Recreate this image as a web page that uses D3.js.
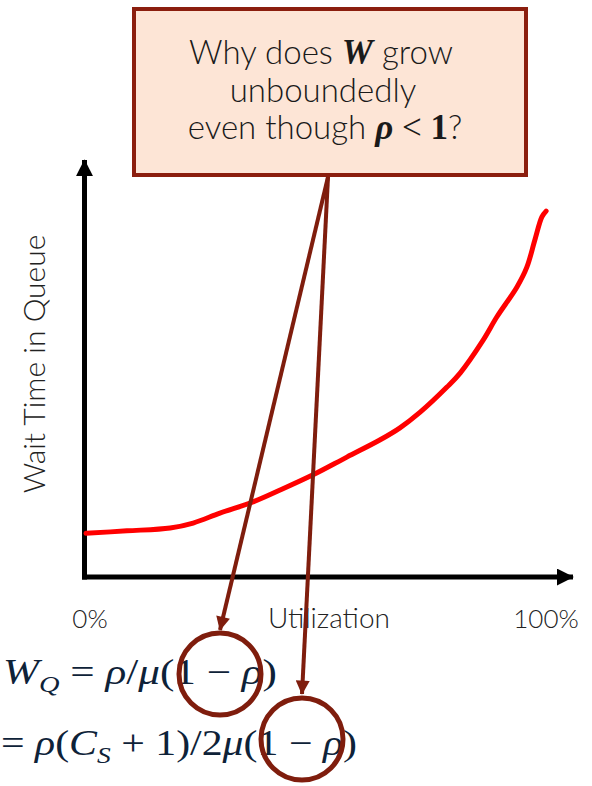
<!DOCTYPE html>
<html>
<head>
<meta charset="utf-8">
<script src="https://cdn.jsdelivr.net/npm/d3@7"></script>
<style>
  html, body { margin: 0; padding: 0; background: #ffffff; }
  svg { display: block; }
</style>
</head>
<body>
<script>
// ---------- data ----------
const utilization = [0, 8.7, 17.9, 22.8, 28.5, 35.5, 41.3, 48.3, 55.5, 62.6, 66.8, 71.1, 76.8, 79.6, 84.5, 87.4, 91.7, 93.8, 95.5, 97.0, 97.9];
const waitTime    = [10.6, 11.2, 11.9, 13.1, 15.5, 18.2, 21.1, 24.8, 29.1, 33.3, 36.2, 40.0, 46.1, 49.5, 57.5, 63.1, 70.4, 75.2, 81.8, 87.4, 88.8];
const xTickValues = [0, 100];
const xTickLabels = ["0%", "100%"];
const xTitle = "Utilization";
const yTitle = "Wait Time in Queue";

const W = 592, H = 786;
const svg = d3.select("body").append("svg").attr("width", W).attr("height", H);

const x = d3.scaleLinear().domain([0, 100]).range([86, 556]);
const y = d3.scaleLinear().domain([0, 100]).range([577, 165]);

const textFont = "Lato, 'Open Sans', sans-serif";
const mathFont = "'Liberation Serif', 'DejaVu Serif', serif";
const arrowColor = "#7f1d0d";

// markers
const defs = svg.append("defs");
defs.append("marker").attr("id", "blackArrow")
  .attr("viewBox", "0 0 10 10").attr("refX", 9.5).attr("refY", 5)
  .attr("markerUnits", "userSpaceOnUse").attr("markerWidth", 17).attr("markerHeight", 17)
  .attr("orient", "auto")
  .append("path").attr("d", "M0,0 L10,5 L0,10 Z").attr("fill", "#000");
defs.append("marker").attr("id", "redArrow")
  .attr("viewBox", "0 0 10 10").attr("refX", 9.5).attr("refY", 5)
  .attr("markerUnits", "userSpaceOnUse").attr("markerWidth", 15).attr("markerHeight", 14)
  .attr("orient", "auto")
  .append("path").attr("d", "M0,0 L10,5 L0,10 Z").attr("fill", arrowColor);

// ---------- axes (arrows) ----------
const x0 = x(0) - 1.5, y0 = y(0);
svg.append("line").attr("x1", x0).attr("y1", y0 + 2.5).attr("x2", x0).attr("y2", 160)
  .attr("stroke", "#000").attr("stroke-width", 5).attr("marker-end", "url(#blackArrow)");
svg.append("line").attr("x1", x0 - 2.5).attr("y1", y0).attr("x2", 573).attr("y2", y0)
  .attr("stroke", "#000").attr("stroke-width", 5).attr("marker-end", "url(#blackArrow)");

// tick labels
svg.selectAll(".xtick").data(xTickValues).enter().append("text")
  .attr("x", (d, i) => x(d) + (i === 0 ? 4 : -10))
  .attr("y", 628)
  .attr("text-anchor", "middle")
  .attr("font-family", textFont).attr("font-weight", 300)
  .attr("font-size", 26).attr("fill", "#222")
  .text((d, i) => xTickLabels[i]);

svg.append("text").attr("x", 329).attr("y", 628).attr("text-anchor", "middle")
  .attr("font-family", textFont).attr("font-weight", 300)
  .attr("font-size", 28).attr("fill", "#222").text(xTitle);

svg.append("text")
  .attr("transform", "translate(45,364) rotate(-90)")
  .attr("text-anchor", "middle")
  .attr("font-family", textFont).attr("font-weight", 300)
  .attr("font-size", 30).attr("fill", "#222").text(yTitle);

// ---------- curve ----------
const pts = utilization.map((u, i) => [u, waitTime[i]]);
svg.append("path").datum(pts)
  .attr("d", d3.line().x(d => x(d[0])).y(d => y(d[1])).curve(d3.curveCatmullRom.alpha(0.5)))
  .attr("fill", "none").attr("stroke", "#ff0000").attr("stroke-width", 5)
  .attr("stroke-linecap", "round").attr("stroke-linejoin", "round");

// ---------- callout box ----------
svg.append("rect").attr("x", 134).attr("y", 9).attr("width", 392).attr("height", 166)
  .attr("fill", "#fde5d6").attr("stroke", "#8b1e0e").attr("stroke-width", 4);

const boxText = svg.append("g").attr("font-family", textFont).attr("font-weight", 300)
  .attr("font-size", 33).attr("fill", "#1a1a1a").attr("text-anchor", "middle");
const l1 = boxText.append("text").attr("x", 321).attr("y", 64);
l1.append("tspan").text("Why does ");
l1.append("tspan").attr("font-family", mathFont).attr("font-style", "italic").attr("font-weight", 700).attr("font-size", 35).text("W");
l1.append("tspan").text("  grow");
boxText.append("text").attr("x", 323).attr("y", 102).text("unboundedly");
const l3 = boxText.append("text").attr("x", 325).attr("y", 139);
l3.append("tspan").text("even though ");
l3.append("tspan").attr("font-family", mathFont).attr("font-style", "italic").attr("font-weight", 700).attr("font-size", 35).text("ρ");
l3.append("tspan").attr("font-family", mathFont).attr("font-weight", 400).attr("font-size", 35).text(" < ");
l3.append("tspan").attr("font-family", mathFont).attr("font-weight", 700).attr("font-size", 35).text("1");
l3.append("tspan").text("?");

// ---------- formulas ----------
const fColor = "#0e2238";
function formula(parts, xPos, yPos, len) {
  const t = svg.append("text").attr("x", xPos).attr("y", yPos)
    .attr("font-family", mathFont).attr("font-size", 35).attr("fill", fColor)
    .attr("textLength", len).attr("lengthAdjust", "spacingAndGlyphs");
  parts.forEach(p => {
    const s = t.append("tspan").text(p.t);
    if (p.i) s.attr("font-style", "italic");
    if (p.sub) s.attr("font-size", 23).attr("dy", 8);
    if (p.up) s.attr("dy", -8);
  });
  return t;
}
formula([
  {t: "W", i: true}, {t: "Q", i: true, sub: true}, {t: " = ", up: true}, {t: "ρ", i: true}, {t: "/"},
  {t: "μ", i: true}, {t: "(1 − "}, {t: "ρ", i: true}, {t: ")"}
], 3, 684, 274);
formula([
  {t: "= "}, {t: "ρ", i: true}, {t: "("}, {t: "C", i: true}, {t: "S", i: true, sub: true},
  {t: " + 1)/2", up: true}, {t: "μ", i: true}, {t: "(1 − "}, {t: "ρ", i: true}, {t: ")"}
], 1, 755, 356);

// ---------- callout arrows & circles ----------
const origin = [328, 177];
const targets = [[220, 630], [302, 694]];
svg.selectAll(".callout").data(targets).enter().append("line")
  .attr("x1", origin[0]).attr("y1", origin[1])
  .attr("x2", d => d[0]).attr("y2", d => d[1])
  .attr("stroke", arrowColor).attr("stroke-width", 4)
  .attr("marker-end", "url(#redArrow)");

const circles = [[220, 674], [302, 739]];
svg.selectAll(".ring").data(circles).enter().append("circle")
  .attr("cx", d => d[0]).attr("cy", d => d[1]).attr("r", 41)
  .attr("fill", "none").attr("stroke", arrowColor).attr("stroke-width", 5);
</script>
</body>
</html>
